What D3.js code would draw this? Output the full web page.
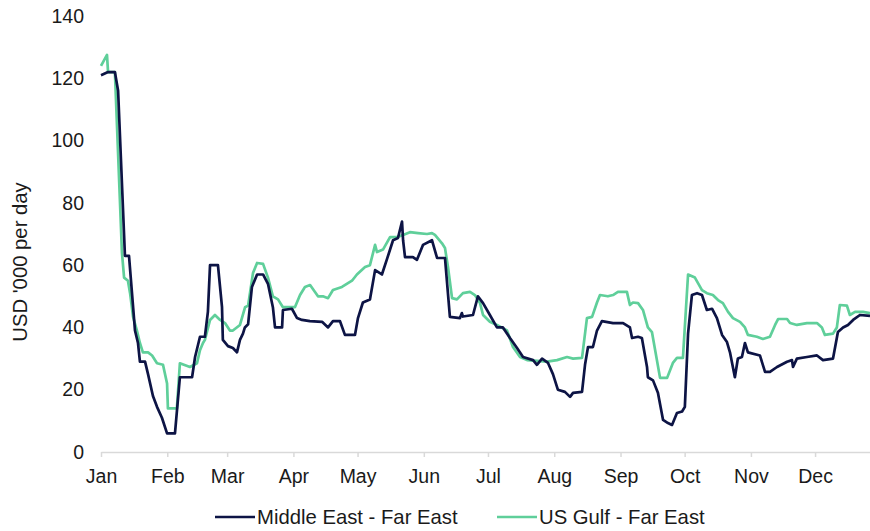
<html>
<meta charset="UTF-8">
<head>
    <title>Tanker rates</title>
    <script src="https://d3js.org/d3.v7.min.js"></script>
    <style>
        body {
            margin: 0;
            background: white;
            font-family: "Liberation Sans", Arial, sans-serif;
        }
        .x.axis .domain, .x.axis line {
            stroke: #d9d9d9;
            stroke-width: 1.5;
        }
        .y.axis .domain {
            stroke: none;
        }
    </style>
</head>
<body>
    <svg id="graph" width="870" height="531"></svg>
</body>
<script>
    // days since 1 Jan, values in USD '000 per day
    const meDays = [0, 3.3, 6.5, 8, 11.2, 13.1, 15.9, 17.3, 18.2, 20.6, 22, 24.3, 26.2, 28.5, 30.9, 34.6, 36.9, 42.6, 44, 46.3,
        48.6, 50, 51, 54.7, 56.6, 57, 59.4, 61.7, 63.6, 65, 66.4, 67.3, 68.8, 70.6, 73, 75.8, 78.1, 80.4, 81.4, 84.7,
        85.1, 89.3, 91.7, 94, 97.7, 103.4, 106.2, 108.5, 111.8, 114.1, 118.8, 120.2, 122.5, 125.8, 128.2, 131.4, 133.8, 136.6, 138.9, 140.8,
        141.3, 142.2, 145.9, 147.8, 150.6, 154.8, 157.2, 160.9, 163.2, 167.9, 168.8, 169.3, 174, 176.3, 178.7, 181.9, 185.2, 188, 191.3, 194.6,
        197.4, 202.1, 203.9, 206.3, 209.1, 211.4, 213.7, 217, 219.4, 220.8, 225, 226.4, 227.8, 230.1, 232, 234.3, 239.5, 244.2, 247.4, 248.4,
        251.2, 253, 255.4, 255.8, 258.2, 260.5, 262.9, 265.2, 267.1, 269.4, 271.8, 273.1, 274.6, 276.4, 278.8, 281.1, 283.4, 285.8, 288.1, 290.5,
        292.8, 294.2, 296.5, 297.9, 299.8, 301.2, 302.6, 308.2, 310.6, 312.9, 316.2, 320.9, 323.2, 323.7, 325.5, 330.2, 334.9, 337.7, 342.4, 344.7,
        347.1, 349.4, 351.8, 355, 359.7];
    const meValues = [121, 122, 122, 116, 63, 63, 39, 35, 29, 29, 25, 18, 14.5, 11, 6, 6, 24, 24, 30.5, 37,
        37, 45, 60, 60, 46.5, 36, 34, 33.4, 32, 36, 38, 40, 41, 53, 57, 57, 54, 46.5, 40, 40,
        45.6, 46, 43, 42.4, 42, 41.8, 40, 42, 42, 37.6, 37.6, 43, 48, 49, 58.4, 57, 62, 68, 68.7, 74,
        68, 62.6, 62.6, 61.7, 66.5, 68, 62.3, 62.3, 43.4, 43, 44.6, 43.5, 44, 50, 47.8, 44, 40, 40, 36.6, 33.4,
        30.5, 29.5, 28, 30, 28.6, 25, 20, 19.3, 17.7, 19, 19.3, 28, 33.7, 33.7, 39, 42, 41.4, 41.4, 40, 36.6,
        37, 36.6, 27.3, 24, 23, 19, 10.3, 9.3, 8.7, 12.5, 13, 14.5, 38, 50.4, 51, 50.4, 45.6, 46, 43, 37.6,
        35.3, 32, 24, 30, 30.5, 35, 32, 31, 25.7, 25.7, 27.3, 29, 29.5, 27.3, 30, 30.5, 31, 29.5, 30, 38.5,
        40, 40.8, 42.4, 44, 43.7];

    const usDays = [0, 2.8, 3.3, 6.5, 9.8, 10.8, 12.6, 13.6, 15, 16.8, 18.2, 19.6, 22, 23.9, 26.2, 29, 30.9, 31.3, 35.5, 36.9,
        41.6, 44.9, 46.3, 47.7, 48.6, 51, 53.3, 55.7, 58, 60.3, 61.7, 65, 67.4, 68.8, 71.1, 73, 75.8, 78.1, 80.4, 82.8,
        85.1, 90.7, 93.1, 95.4, 97.8, 100.1, 101.5, 103.8, 106.2, 108.5, 112.7, 117.4, 119.7, 123.5, 125.8, 128.2, 129.1, 131.9, 135.2, 138.4,
        141.3, 144.5, 148.3, 152.5, 154.8, 156.2, 159.5, 160.9, 162.3, 164.2, 166.5, 169.3, 172.6, 174.9, 177.3, 178.7, 181.9, 185.2, 189.9, 192.7,
        196, 199.3, 208.6, 213.3, 218, 220.8, 225, 227.3, 229.7, 232, 233.4, 237.1, 239.5, 241.8, 246, 247.4, 248.8, 251.2, 253.5, 255.8,
        257.7, 261.5, 264.8, 267.5, 269.4, 272.2, 274.6, 277.8, 281.1, 283.4, 286.2, 288.6, 290.9, 293.3, 295.6, 298.9, 301.2, 302.6, 306.8, 309.6,
        312.9, 315.3, 316.7, 320.9, 322.3, 325.5, 330.2, 334.9, 337.2, 338.6, 342.4, 344.2, 345.6, 348.9, 350.3, 352.7, 356.4, 359.7];
    const usValues = [124, 127.5, 122, 122, 64, 56, 55, 51, 43.4, 39, 35, 32, 32, 31, 28.5, 28, 22, 14, 14, 28.5,
        27.3, 28.5, 32.7, 35, 36, 42.4, 44, 42.4, 41.4, 39, 39, 40.8, 46.5, 47, 57.5, 60.7, 60.4, 56, 50, 49,
        46.5, 46.5, 50.4, 53, 53.6, 51.4, 50, 50, 49.4, 52, 53, 55, 57, 59.4, 60, 66.5, 64.2, 65, 69, 69,
        69.7, 70.6, 70.3, 70, 70.3, 69.7, 67, 65.5, 59.4, 49.4, 49, 51, 51.4, 50.4, 47.8, 44, 41.8, 40.8, 39, 33.7,
        30.5, 29.5, 29, 29.5, 30.5, 30, 30.2, 43, 43.4, 48, 50.4, 50, 50.4, 51.4, 51.4, 47.2, 48, 47.8, 45.6, 40,
        38.5, 23.8, 23.8, 28.6, 30.2, 30.2, 57, 56, 52, 51, 50.4, 48.8, 47.8, 45, 43, 41.8, 40, 37.6, 37, 36.3,
        37, 40.8, 42.7, 42.7, 41.4, 40.8, 41.4, 41.4, 40, 37.6, 38, 40, 47.2, 47, 44, 45, 45, 44.6];

    const seriesNames = ["Middle East - Far East", "US Gulf - Far East"];
    const seriesColors = ["#0d1445", "#5fcf9a"];
    const monthLabels = ["Jan", "Feb", "Mar", "Apr", "May", "Jun", "Jul", "Aug", "Sep", "Oct", "Nov", "Dec"];
    const yTicks = [0, 20, 40, 60, 80, 100, 120, 140];
    const lastDay = 359.7;

    const g = d3.select("svg#graph");
    const start = new Date(2023, 0, 1);
    const toDate = d => new Date(start.getTime() + d * 864e5);

    const xScale = d3.scaleTime().domain([start, toDate(lastDay)]).range([101, 870]);
    const yScale = d3.scaleLinear().domain([0, 140]).range([452, 16]);

    // x axis
    let bottomAxis = d3.axisBottom(xScale)
        .tickValues(monthLabels.map((m, i) => new Date(2023, i, 1)))
        .tickFormat(d => monthLabels[d.getMonth()])
        .tickSize(5)
        .tickSizeOuter(0)
        .tickPadding(12);
    let xAxis = g.append("g")
        .attr("class", "x axis")
        .attr("transform", `translate(0,${yScale(0)})`)
        .call(bottomAxis);
    xAxis.selectAll("text")
        .attr("font-family", "'Liberation Sans', Arial, sans-serif")
        .attr("font-size", "19.5px")
        .attr("fill", "#1a1a1a");

    // y axis
    let leftAxis = d3.axisLeft(yScale)
        .tickValues(yTicks)
        .tickSize(0)
        .tickPadding(0);
    let yAxis = g.append("g")
        .attr("class", "y axis")
        .attr("transform", "translate(84,0)")
        .call(leftAxis);
    yAxis.selectAll("text")
        .attr("font-family", "'Liberation Sans', Arial, sans-serif")
        .attr("font-size", "19.5px")
        .attr("fill", "#1a1a1a");

    g.append("text")
        .attr("transform", "translate(27,262) rotate(-90)")
        .attr("text-anchor", "middle")
        .attr("font-size", "20.3px")
        .attr("fill", "#1a1a1a")
        .text("USD '000 per day");

    // lines
    const line = d3.line()
        .x(d => xScale(toDate(d[0])))
        .y(d => yScale(d[1]));

    const series = [
        d3.zip(usDays, usValues),
        d3.zip(meDays, meValues)
    ];
    const order = [1, 0];
    g.selectAll("path.series")
        .data(series)
        .join("path")
        .attr("class", "series")
        .attr("fill", "none")
        .attr("stroke", (d, i) => seriesColors[order[i]])
        .attr("stroke-width", 2.7)
        .attr("stroke-linejoin", "round")
        .attr("d", line);

    // legend
    const legendX = [215, 497];
    const legend = g.selectAll("g.legend")
        .data(seriesNames)
        .join("g")
        .attr("class", "legend")
        .attr("transform", (d, i) => `translate(${legendX[i]},517)`);
    legend.append("line")
        .attr("x1", 0).attr("x2", 40)
        .attr("stroke", (d, i) => seriesColors[i])
        .attr("stroke-width", 2.7);
    legend.append("text")
        .attr("x", 42)
        .attr("y", 7)
        .attr("font-size", "20.3px")
        .attr("fill", "#1a1a1a")
        .text(d => d);
</script>
</html>
